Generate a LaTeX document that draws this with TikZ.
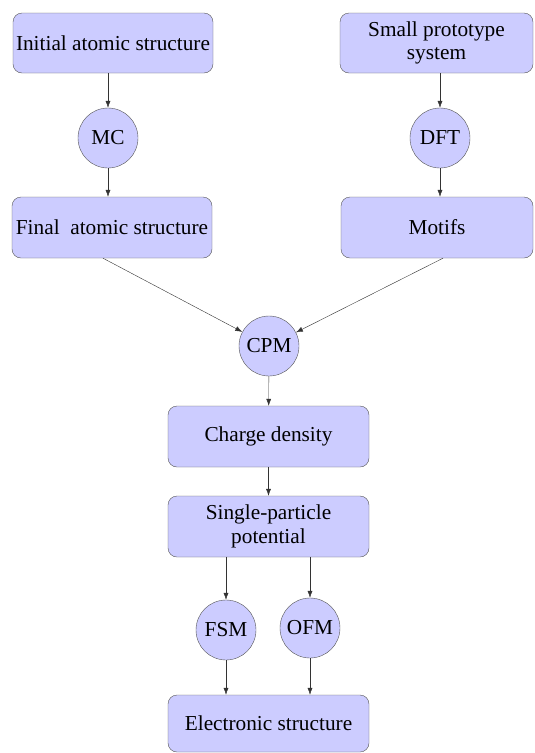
\documentclass[tikz,border=0pt]{standalone}
\usepackage{fontspec}
\setmainfont{Liberation Serif}
\usetikzlibrary{arrows.meta}
\definecolor{boxfill}{RGB}{204,204,255}
\definecolor{boxline}{RGB}{85,85,85}
\begin{document}
\begin{tikzpicture}[x=1pt,y=-1pt,
    box/.style={draw=boxline, fill=boxfill, rounded corners=9pt, align=center,
        minimum width=201pt, minimum height=61pt, inner sep=0pt,
        font=\fontsize{21.3pt}{23.5pt}\selectfont},
    proc/.style={circle, draw=boxline, fill=boxfill, minimum size=60pt, inner sep=0pt,
        font=\fontsize{21.3pt}{23.5pt}\selectfont},
    arr/.style={draw=black!80, -{Latex[length=7pt,width=5pt]}}]
    \useasboundingbox (0,0) rectangle (535,753);
    % inputs
    \node[box, minimum width=200pt, minimum height=60pt] (init) at (113,43) {Initial atomic structure};
    \node[box, minimum width=193pt, minimum height=60pt] (small) at (436.5,43) {Small prototype\\system};
    \node[proc] (mc) at (108,138) {MC};
    \node[proc] (dft) at (440,138) {DFT};
    \node[box, minimum width=200pt] (final) at (112,227.5) {Final\ \ atomic structure};
    \node[box, minimum width=192pt] (motifs) at (437,227.5) {Motifs};
    % charge patching
    \node[proc] (cpm) at (269,346) {CPM};
    \node[box] (charge) at (268.5,436.5) {Charge density};
    \node[box] (single) at (268.5,526.5) {Single-particle\\potential};
    \node[proc] (fsm) at (226,630) {FSM};
    \node[proc] (ofm) at (310,628) {OFM};
    \node[box, minimum height=57pt] (elec) at (268.5,723.5) {Electronic structure};
    % connectors
    \draw[arr] (init.south -| mc) -- (mc);
    \draw[arr] (mc) -- (final.north -| mc);
    \draw[arr] (small.south -| dft) -- (dft);
    \draw[arr] (dft) -- (motifs.north -| dft);
    \draw[arr] ([xshift=-9pt]final.south) -- (cpm);
    \draw[arr] ([xshift=6pt]motifs.south) -- (cpm);
    \draw[arr] (cpm) -- (charge);
    \draw[arr] (charge) -- (single);
    \draw[arr] (single.south -| fsm) -- (fsm);
    \draw[arr] (single.south -| ofm) -- (ofm);
    \draw[arr] (fsm) -- (elec.north -| fsm);
    \draw[arr] (ofm) -- (elec.north -| ofm);
\end{tikzpicture}
\end{document}
